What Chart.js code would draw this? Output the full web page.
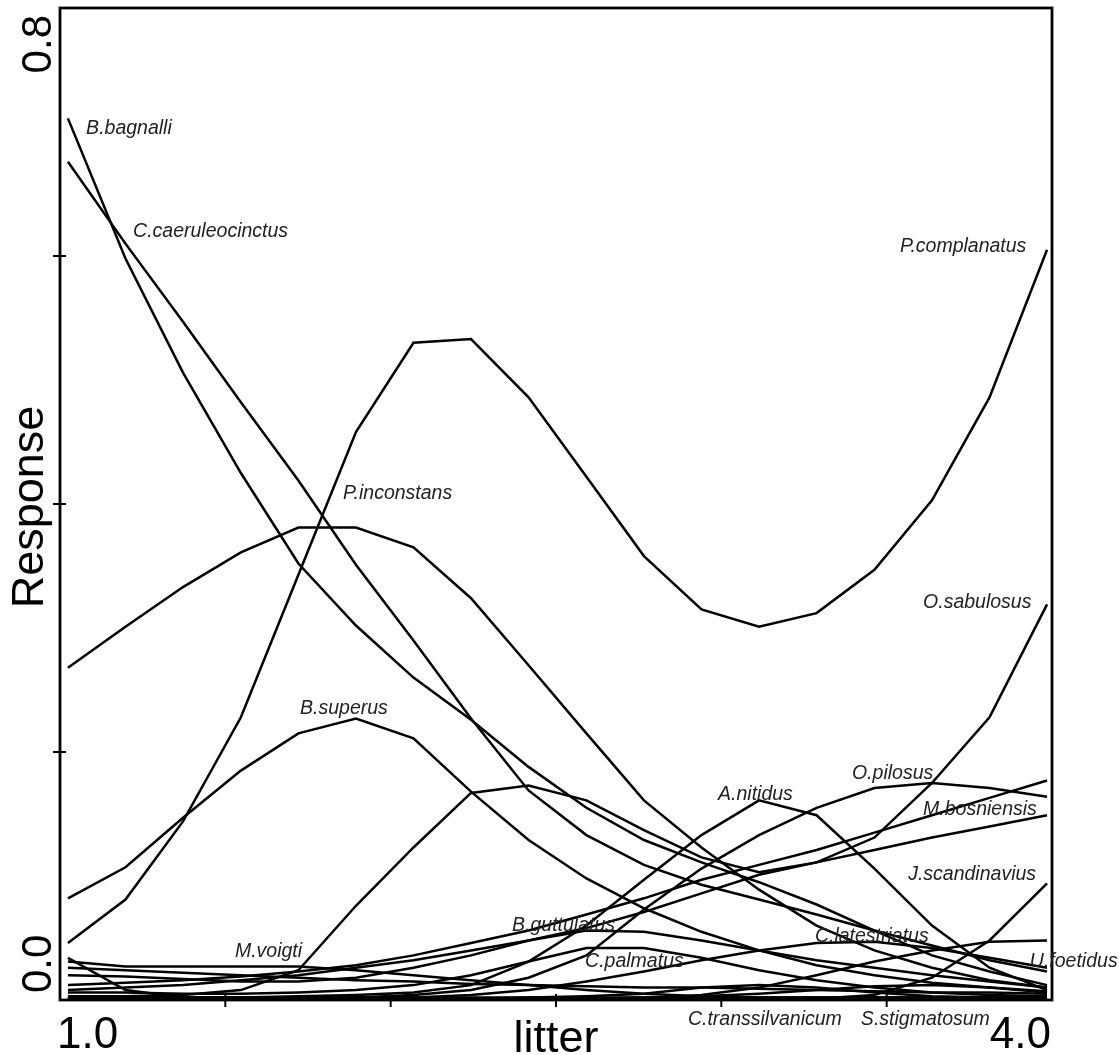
<!DOCTYPE html>
<html>
<head>
<meta charset="utf-8">
<title>Response curves - litter</title>
<script src="https://cdn.jsdelivr.net/npm/chart.js@4.4.1/dist/chart.umd.min.js"></script>
<style>
  html, body { margin: 0; padding: 0; background: #fff; }
  #wrap { position: relative; width: 1119px; height: 1055px; }
</style>
</head>
<body>
<div id="wrap"><canvas id="responseChart"></canvas></div>
<script>
/* ============================
   SPECIES RESPONSE CURVES vs LITTER
============================ */

// ---------- AXIS ----------
const litter = [1.024, 1.198, 1.372, 1.547, 1.721, 1.895, 2.069, 2.243, 2.417,
                2.592, 2.766, 2.940, 3.114, 3.288, 3.463, 3.637, 3.811, 3.985];
const xTicks = [1.0, 1.5, 2.0, 2.5, 3.0, 3.5, 4.0];
const yTicks = [0.0, 0.2, 0.4, 0.6, 0.8];
const xTickLabels = ["1.0", "4.0"];
const yTickLabels = ["0.0", "0.8"];

// ---------- SERIES (fitted response) ----------
const bBagnalli = [0.711, 0.598, 0.506, 0.425, 0.352, 0.302, 0.260, 0.226, 0.188, 0.155, 0.129, 0.111, 0.095, 0.077, 0.056, 0.036, 0.023, 0.012];
const cCaeruleocinctus = [0.676, 0.610, 0.547, 0.482, 0.419, 0.351, 0.290, 0.227, 0.169, 0.133, 0.109, 0.093, 0.081, 0.069, 0.056, 0.044, 0.032, 0.023];
const pComplanatus = [0.046, 0.081, 0.144, 0.228, 0.343, 0.458, 0.530, 0.533, 0.486, 0.422, 0.358, 0.315, 0.301, 0.312, 0.347, 0.403, 0.486, 0.605];
const pInconstans = [0.268, 0.301, 0.333, 0.361, 0.381, 0.381, 0.365, 0.324, 0.270, 0.215, 0.161, 0.123, 0.089, 0.060, 0.040, 0.026, 0.016, 0.010];
const bSuperus = [0.082, 0.107, 0.147, 0.185, 0.215, 0.227, 0.211, 0.168, 0.129, 0.098, 0.074, 0.055, 0.040, 0.028, 0.020, 0.014, 0.010, 0.006];
const oSabulosus = [0.003, 0.003, 0.004, 0.008, 0.024, 0.076, 0.123, 0.167, 0.173, 0.161, 0.137, 0.115, 0.103, 0.111, 0.131, 0.175, 0.228, 0.319];
const aNitidus = [0.002, 0.002, 0.002, 0.002, 0.003, 0.004, 0.006, 0.012, 0.031, 0.060, 0.097, 0.133, 0.161, 0.149, 0.106, 0.060, 0.026, 0.008];
const oPilosus = [0.001, 0.001, 0.001, 0.002, 0.002, 0.002, 0.004, 0.008, 0.018, 0.036, 0.073, 0.106, 0.133, 0.155, 0.171, 0.175, 0.171, 0.164];
const mBosniensis = [0.012, 0.014, 0.016, 0.019, 0.023, 0.028, 0.036, 0.046, 0.056, 0.069, 0.082, 0.097, 0.109, 0.121, 0.135, 0.149, 0.163, 0.177];
const sp815 = [0.008, 0.010, 0.012, 0.016, 0.020, 0.026, 0.032, 0.040, 0.048, 0.058, 0.071, 0.086, 0.101, 0.111, 0.121, 0.131, 0.140, 0.149];
const jScandinavius = [0.001, 0.001, 0.001, 0.001, 0.001, 0.001, 0.001, 0.001, 0.001, 0.001, 0.001, 0.001, 0.001, 0.001, 0.004, 0.018, 0.048, 0.094];
const mVoigti = [0.031, 0.027, 0.027, 0.027, 0.027, 0.024, 0.020, 0.016, 0.012, 0.008, 0.005, 0.003, 0.002, 0.002, 0.002, 0.002, 0.002, 0.002];
const spFalling = [0.034, 0.008, 0.002, 0.002, 0.002, 0.002, 0.002, 0.002, 0.002, 0.002, 0.002, 0.002, 0.002, 0.002, 0.002, 0.002, 0.002, 0.002];
const bGuttulatus = [0.020, 0.019, 0.017, 0.015, 0.015, 0.018, 0.026, 0.036, 0.048, 0.056, 0.055, 0.048, 0.040, 0.032, 0.026, 0.020, 0.015, 0.010];
const cPalmatus = [0.006, 0.006, 0.005, 0.005, 0.006, 0.008, 0.012, 0.020, 0.031, 0.042, 0.042, 0.034, 0.024, 0.016, 0.010, 0.006, 0.004, 0.003];
const cLatestriatus = [0.002, 0.002, 0.002, 0.002, 0.002, 0.002, 0.002, 0.004, 0.008, 0.015, 0.023, 0.032, 0.040, 0.046, 0.047, 0.042, 0.034, 0.026];
const uFoetidus = [0.001, 0.001, 0.001, 0.001, 0.001, 0.001, 0.001, 0.001, 0.001, 0.001, 0.001, 0.004, 0.010, 0.020, 0.031, 0.040, 0.047, 0.048];
const spLow = [0.026, 0.024, 0.022, 0.020, 0.018, 0.016, 0.015, 0.013, 0.012, 0.011, 0.010, 0.010, 0.009, 0.008, 0.007, 0.006, 0.006, 0.005];
const cTranssilvanicum = [0.001, 0.001, 0.001, 0.001, 0.001, 0.001, 0.001, 0.001, 0.002, 0.003, 0.005, 0.010, 0.012, 0.010, 0.006, 0.003, 0.002, 0.001];
const sStigmatosum = [0.001, 0.001, 0.001, 0.001, 0.001, 0.001, 0.001, 0.001, 0.001, 0.001, 0.002, 0.003, 0.005, 0.008, 0.011, 0.012, 0.010, 0.007];

const seriesList = [bBagnalli, cCaeruleocinctus, pComplanatus, pInconstans, bSuperus,
    oSabulosus, aNitidus, oPilosus, mBosniensis, sp815, jScandinavius, mVoigti,
    spFalling, bGuttulatus, cPalmatus, cLatestriatus, uFoetidus, spLow,
    cTranssilvanicum, sStigmatosum];

// ---------- SPECIES LABELS (text, litter, response at baseline) ----------
const labelNames = ["B.bagnalli", "C.caeruleocinctus", "P.complanatus", "P.inconstans",
    "O.sabulosus", "B.superus", "O.pilosus", "A.nitidus", "M.bosniensis", "J.scandinavius",
    "B.guttulatus", "C.latestriatus", "U.foetidus", "M.voigti", "C.palmatus",
    "C.transsilvanicum", "S.stigmatosum"];
const labelX = [1.079, 1.221, 3.540, 1.856, 3.610, 1.726, 3.395, 2.990, 3.610, 3.565,
    2.367, 3.283, 3.933, 1.529, 2.588, 2.899, 3.422];
const labelY = [0.698, 0.615, 0.603, 0.404, 0.316, 0.231, 0.178, 0.161, 0.149, 0.097,
    0.056, 0.047, 0.027, 0.035, 0.027, -0.020, -0.020];

// ---------- DRAW HELPERS ----------
const FONT = "'Liberation Sans', Arial, sans-serif";

const framePlugin = {
    id: "frame",
    afterDraw(chart) {
        const { ctx, chartArea: a, scales: { x, y } } = chart;
        ctx.save();

        // box
        ctx.strokeStyle = "#000";
        ctx.lineWidth = 2.8;
        ctx.strokeRect(a.left, a.top, a.right - a.left, a.bottom - a.top);

        // crossing tick marks
        ctx.lineWidth = 2;
        ctx.beginPath();
        xTicks.slice(1, -1).forEach(v => {
            const px = x.getPixelForValue(v);
            ctx.moveTo(px, a.bottom - 6);
            ctx.lineTo(px, a.bottom + 7);
        });
        yTicks.slice(1, -1).forEach(v => {
            const py = y.getPixelForValue(v);
            ctx.moveTo(a.left - 7, py);
            ctx.lineTo(a.left + 6, py);
        });
        ctx.stroke();

        // tick labels
        ctx.fillStyle = "#000";
        ctx.font = "44px " + FONT;
        ctx.textBaseline = "alphabetic";
        ctx.textAlign = "left";
        ctx.fillText(xTickLabels[0], a.left - 3, 1048);
        ctx.textAlign = "right";
        ctx.fillText(xTickLabels[1], a.right - 1, 1048);

        ctx.save();
        ctx.translate(51, 0);
        ctx.rotate(-Math.PI / 2);
        ctx.font = "42px " + FONT;
        ctx.textAlign = "left";
        ctx.fillText(yTickLabels[0], -(a.bottom - 7), 0);
        ctx.textAlign = "right";
        ctx.fillText(yTickLabels[1], -(a.top + 7), 0);
        ctx.restore();

        // axis titles
        ctx.font = "45px " + FONT;
        ctx.textAlign = "center";
        ctx.fillText("litter", (a.left + a.right) / 2, 1052);
        ctx.save();
        ctx.translate(43, 507);
        ctx.rotate(-Math.PI / 2);
        ctx.fillText("Response", 0, 0);
        ctx.restore();

        // species names
        ctx.font = "italic 19.5px " + FONT;
        ctx.fillStyle = "#222";
        ctx.textAlign = "left";
        labelNames.forEach((name, i) => {
            ctx.fillText(name, x.getPixelForValue(labelX[i]), y.getPixelForValue(labelY[i]));
        });

        ctx.restore();
    }
};

// ---------- MAIN INIT ----------
document.addEventListener("DOMContentLoaded", () => {
    const ctx = document.getElementById("responseChart");

    new Chart(ctx, {
        type: "line",
        data: {
            datasets: seriesList.map(vals => ({
                data: litter.map((lx, i) => ({ x: lx, y: vals[i] })),
                borderColor: "#000",
                borderWidth: 2.5,
                pointRadius: 0,
                tension: 0,
                fill: false
            }))
        },
        options: {
            responsive: true,
            maintainAspectRatio: false,
            animation: false,
            layout: { padding: { left: 60, right: 67, top: 8, bottom: 55 } },
            plugins: {
                legend: { display: false },
                tooltip: { enabled: false }
            },
            scales: {
                x: { type: "linear", min: 1, max: 4, display: false },
                y: { type: "linear", min: 0, max: 0.8, display: false }
            }
        },
        plugins: [framePlugin]
    });
});
</script>
</body>
</html>
